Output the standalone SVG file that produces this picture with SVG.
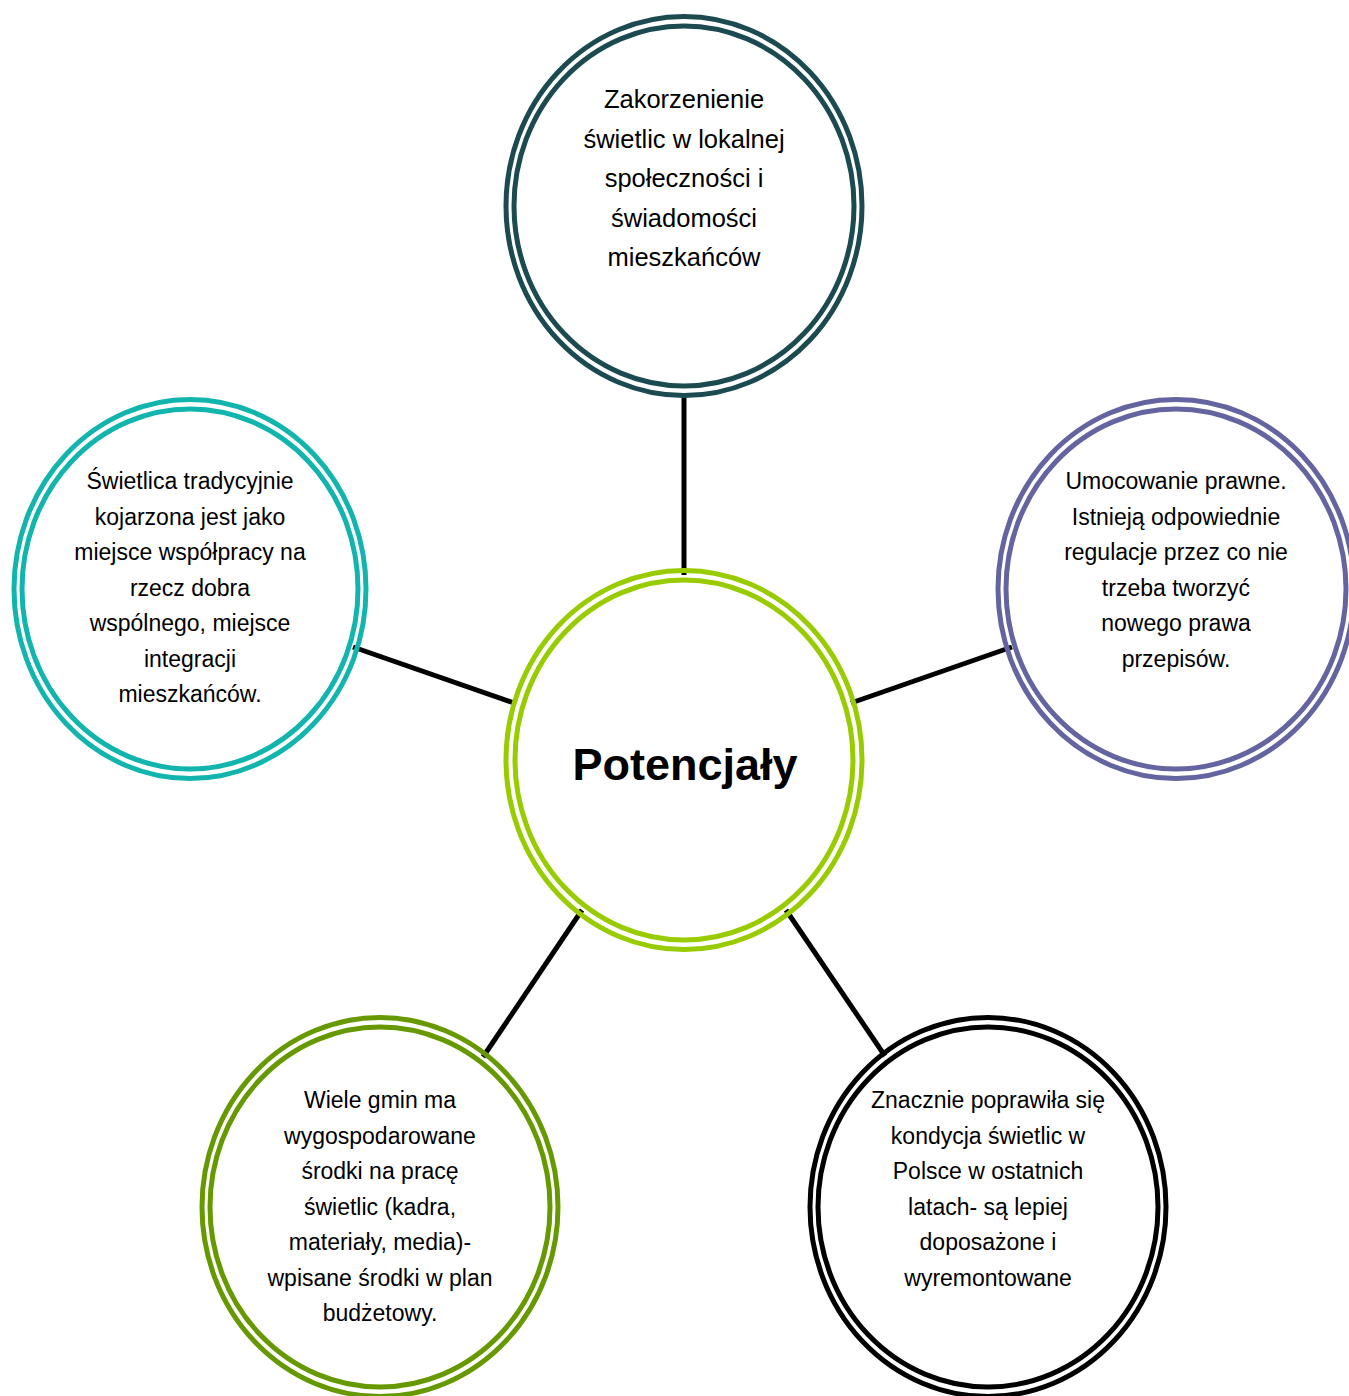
<svg xmlns="http://www.w3.org/2000/svg" width="1349" height="1396" viewBox="0 0 1349 1396">
<style>
.ring{fill:none;stroke-width:5}
.bg{fill:#ffffff}
.t{font-family:"Liberation Sans",Arial,sans-serif;font-size:23px;fill:#000;text-anchor:middle}
.tl{font-size:25.5px}
.title{font-family:"Liberation Sans",Arial,sans-serif;font-size:45px;font-weight:bold;fill:#000;text-anchor:middle}
.conn{stroke:#000;stroke-width:5;fill:none}
</style>
<rect x="0" y="0" width="1349" height="1396" fill="#ffffff"/>
<g id="connectors">
<line class="conn" x1="684" y1="397" x2="684" y2="575"/>
<line class="conn" x1="353" y1="647" x2="514" y2="703"/>
<line class="conn" x1="1012" y1="647" x2="851" y2="703"/>
<line class="conn" x1="582" y1="910" x2="483" y2="1057"/>
<line class="conn" x1="786" y1="910" x2="885" y2="1056"/>
</g>
<g id="node-top">
<ellipse class="ring" cx="684" cy="206" rx="178" ry="189.5" stroke="#1B4A50"/>
<ellipse class="ring" cx="684" cy="206" rx="170" ry="180" stroke="#1B4A50"/>
<text class="t tl" x="684" y="108">Zakorzenienie</text>
<text class="t tl" x="684" y="147.5">świetlic w lokalnej</text>
<text class="t tl" x="684" y="187">społeczności i</text>
<text class="t tl" x="684" y="226.5">świadomości</text>
<text class="t tl" x="684" y="266">mieszkańców</text>
</g>
<g id="node-center">
<ellipse class="ring" cx="684" cy="760" rx="178" ry="189.5" stroke="#99CC00"/>
<ellipse class="ring" cx="684" cy="760" rx="169" ry="180" stroke="#99CC00"/>
<text class="title" x="685" y="780">Potencjały</text>
</g>
<g id="node-left">
<ellipse class="ring" cx="190" cy="589" rx="176" ry="189.5" stroke="#12B5AE"/>
<ellipse class="ring" cx="190" cy="589" rx="168" ry="180" stroke="#12B5AE"/>
<text class="t" x="190" y="489">Świetlica tradycyjnie</text>
<text class="t" x="190" y="524.5">kojarzona jest jako</text>
<text class="t" x="190" y="560">miejsce współpracy na</text>
<text class="t" x="190" y="595.5">rzecz dobra</text>
<text class="t" x="190" y="631">wspólnego, miejsce</text>
<text class="t" x="190" y="666.5">integracji</text>
<text class="t" x="190" y="702">mieszkańców.</text>
</g>
<g id="node-right">
<ellipse class="ring" cx="1176" cy="589" rx="178" ry="189.5" stroke="#6464A0"/>
<ellipse class="ring" cx="1176" cy="589" rx="170" ry="180" stroke="#6464A0"/>
<text class="t" x="1176" y="489">Umocowanie prawne.</text>
<text class="t" x="1176" y="524.5">Istnieją odpowiednie</text>
<text class="t" x="1176" y="560">regulacje przez co nie</text>
<text class="t" x="1176" y="595.5">trzeba tworzyć</text>
<text class="t" x="1176" y="631">nowego prawa</text>
<text class="t" x="1176" y="666.5">przepisów.</text>
</g>
<g id="node-bottom-left">
<ellipse class="ring" cx="380" cy="1207" rx="178" ry="189.5" stroke="#669900"/>
<ellipse class="ring" cx="380" cy="1207" rx="170" ry="180" stroke="#669900"/>
<text class="t" x="380" y="1108">Wiele gmin ma</text>
<text class="t" x="380" y="1143.5">wygospodarowane</text>
<text class="t" x="380" y="1179">środki na pracę</text>
<text class="t" x="380" y="1214.5">świetlic (kadra,</text>
<text class="t" x="380" y="1250">materiały, media)-</text>
<text class="t" x="380" y="1285.5">wpisane środki w plan</text>
<text class="t" x="380" y="1321">budżetowy.</text>
</g>
<g id="node-bottom-right">
<ellipse class="ring" cx="988" cy="1207" rx="178" ry="189.5" stroke="#000000"/>
<ellipse class="ring" cx="988" cy="1207" rx="170" ry="180" stroke="#000000"/>
<text class="t" x="988" y="1108">Znacznie poprawiła się</text>
<text class="t" x="988" y="1143.5">kondycja świetlic w</text>
<text class="t" x="988" y="1179">Polsce w ostatnich</text>
<text class="t" x="988" y="1214.5">latach- są lepiej</text>
<text class="t" x="988" y="1250">doposażone i</text>
<text class="t" x="988" y="1285.5">wyremontowane</text>
</g>
</svg>
